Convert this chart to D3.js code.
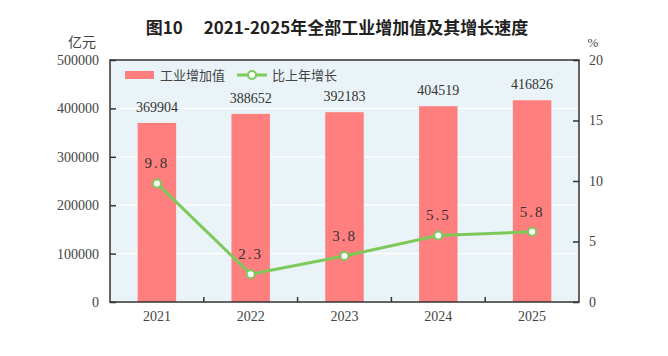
<!DOCTYPE html>
<html><head><meta charset="utf-8">
<script src="https://cdn.jsdelivr.net/npm/d3@7"></script>
<style>body{margin:0;background:#fff}</style>
</head><body>
<svg id="c" width="668" height="356"></svg>
<script>
const years = ["2021","2022","2023","2024","2025"];
const valueAdded = [369904, 388652, 392183, 404519, 416826];
const growth = [9.8, 2.3, 3.8, 5.5, 5.8];
const leftTicks = [0,100000,200000,300000,400000,500000];
const rightTicks = [0,5,10,15,20];

const svg = d3.select("#c");
const L=110, R=579, T=60, B=302;
const serif = "'Liberation Serif','DejaVu Serif',serif";
const cjk = "'Noto Sans CJK SC','Noto Sans',sans-serif";

const x = d3.scaleBand().domain(years).range([L,R]).paddingInner(0.59).paddingOuter(0.295);
const xb = d3.scaleBand().domain(years).range([L,R]);
const yL = d3.scaleLinear().domain([0,500000]).range([B,T]);
const yR = d3.scaleLinear().domain([0,20]).range([B,T]);

svg.append("text").attr("x",337).attr("y",34).attr("text-anchor","middle")
  .attr("font-family",cjk).attr("font-weight","bold").attr("font-size",17).attr("fill","#222")
  .text("图10\u3000 2021-2025年全部工业增加值及其增长速度");

svg.append("rect").attr("x",L).attr("y",T).attr("width",R-L).attr("height",B-T).attr("fill","#EAF3F7");

// gridlines
svg.append("g").selectAll("line").data(leftTicks.slice(1,-1)).join("line")
  .attr("x1",L).attr("x2",R).attr("y1",d=>yL(d)).attr("y2",d=>yL(d))
  .attr("stroke","#fff").attr("stroke-width",1.2);

// bars
svg.append("g").selectAll("rect").data(years).join("rect")
  .attr("x",d=>x(d)).attr("width",x.bandwidth())
  .attr("y",(d,i)=>yL(valueAdded[i])).attr("height",(d,i)=>B-yL(valueAdded[i]))
  .attr("fill","#FF7F7F");

// bar labels
svg.append("g").selectAll("text").data(years).join("text")
  .attr("x",d=>x(d)+x.bandwidth()/2).attr("y",(d,i)=>yL(valueAdded[i])-11)
  .attr("text-anchor","middle").attr("font-family",serif).attr("font-size",14).attr("fill","#333")
  .text((d,i)=>valueAdded[i]);

// line
const cx = d=>x(d)+x.bandwidth()/2;
const line = d3.line().x((d,i)=>cx(years[i])).y(d=>yR(d));
svg.append("path").datum(growth).attr("d",line).attr("fill","none")
  .attr("stroke","#7DC95A").attr("stroke-width",3);
svg.append("g").selectAll("circle").data(growth).join("circle")
  .attr("cx",(d,i)=>cx(years[i])).attr("cy",d=>yR(d)).attr("r",4)
  .attr("fill","#fff").attr("stroke","#7DC95A").attr("stroke-width",2);
svg.append("g").selectAll("text").data(growth).join("text")
  .attr("x",(d,i)=>cx(years[i])).attr("y",d=>yR(d)-15)
  .attr("text-anchor","middle").attr("font-family",serif).attr("font-size",15).attr("fill","#333")
  .attr("letter-spacing",2)
  .text(d=>d.toFixed(1));

// frame
svg.append("rect").attr("x",L).attr("y",T).attr("width",R-L).attr("height",B-T)
  .attr("fill","none").attr("stroke","#333").attr("stroke-width",1.5);

// left axis
const gl = svg.append("g").attr("transform",`translate(${L},0)`)
  .call(d3.axisLeft(yL).tickValues(leftTicks).tickSize(-6).tickPadding(11).tickFormat(d3.format("d")));
gl.select(".domain").remove();
gl.selectAll("line").attr("stroke","#333").attr("stroke-width",1.5);
gl.selectAll("text").attr("font-family",serif).attr("font-size",14).attr("fill","#444");

// right axis
const gr = svg.append("g").attr("transform",`translate(${R},0)`)
  .call(d3.axisRight(yR).tickValues(rightTicks).tickSize(-6).tickPadding(10));
gr.select(".domain").remove();
gr.selectAll("line").attr("stroke","#333").attr("stroke-width",1.5);
gr.selectAll("text").attr("font-family",serif).attr("font-size",14).attr("fill","#444");

// bottom axis ticks at boundaries
svg.append("g").selectAll("line").data(years.slice(1)).join("line")
  .attr("x1",d=>xb(d)).attr("x2",d=>xb(d)).attr("y1",B).attr("y2",B-5)
  .attr("stroke","#333").attr("stroke-width",1.5);
svg.append("g").selectAll("text").data(years).join("text")
  .attr("x",d=>xb(d)+xb.bandwidth()/2).attr("y",321).attr("text-anchor","middle")
  .attr("font-family",serif).attr("font-size",14).attr("fill","#444").text(d=>d);

// unit labels
svg.append("text").attr("x",82).attr("y",47).attr("text-anchor","middle")
  .attr("font-family",cjk).attr("font-size",14).attr("fill","#444").text("亿元");
svg.append("text").attr("x",593).attr("y",47).attr("text-anchor","middle")
  .attr("font-family",serif).attr("font-size",13).attr("fill","#444").text("%");

// legend
const lg = svg.append("g");
lg.append("rect").attr("x",125).attr("y",71).attr("width",29).attr("height",8).attr("fill","#FF7F7F");
lg.append("text").attr("x",160).attr("y",80).attr("font-family",cjk).attr("font-size",13).attr("fill","#444").text("工业增加值");
lg.append("line").attr("x1",237).attr("x2",267).attr("y1",75).attr("y2",75).attr("stroke","#7DC95A").attr("stroke-width",3);
lg.append("circle").attr("cx",252).attr("cy",75).attr("r",4).attr("fill","#fff").attr("stroke","#7DC95A").attr("stroke-width",2);
lg.append("text").attr("x",272).attr("y",80).attr("font-family",cjk).attr("font-size",13).attr("fill","#444").text("比上年增长");
</script>
</body></html>
